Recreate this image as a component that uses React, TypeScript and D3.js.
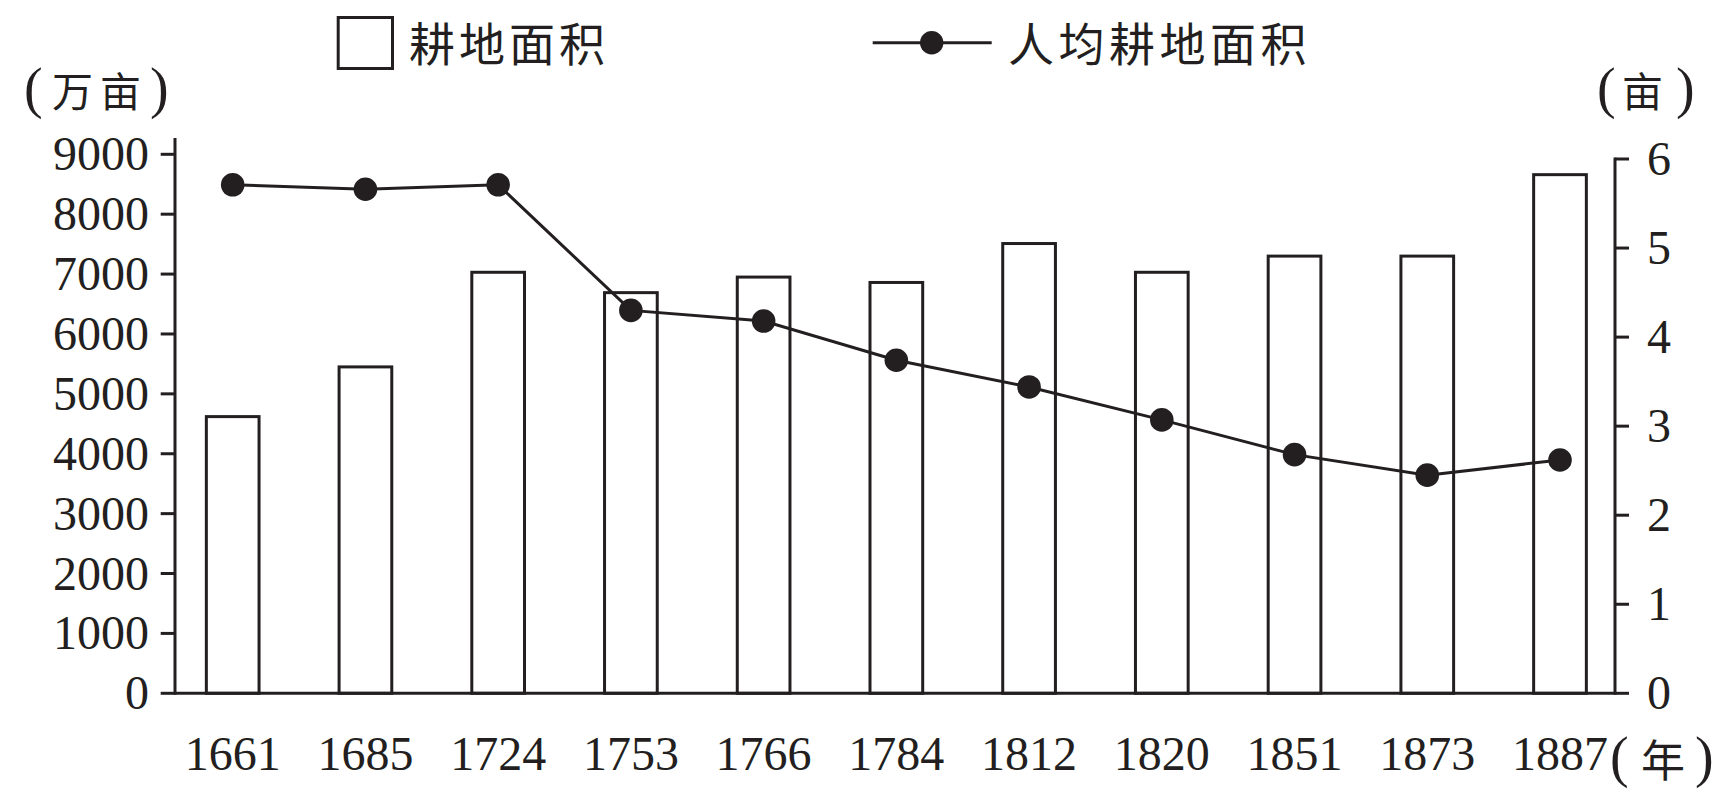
import React from "react";
import * as d3 from "d3";

const years = ["1661", "1685", "1724", "1753", "1766", "1784", "1812", "1820", "1851", "1873", "1887"];
const areaValues = [4620, 5450, 7030, 6690, 6950, 6860, 7510, 7030, 7300, 7300, 8660];
const perCapitaValues = [5.71, 5.66, 5.71, 4.3, 4.18, 3.74, 3.44, 3.07, 2.68, 2.45, 2.62];
const leftTicks = [0, 1000, 2000, 3000, 4000, 5000, 6000, 7000, 8000, 9000];
const rightTicks = [0, 1, 2, 3, 4, 5, 6];
const legendBar = "耕地面积";
const legendLine = "人均耕地面积";

const W = 1734;
const H = 807;
const INK = "#231f20";
const SERIF = "'Liberation Serif', 'Times New Roman', serif";
const CJK = "'Noto Sans CJK SC', 'Noto Sans CJK JP', sans-serif";

export default function App() {
  const x = d3.scalePoint<string>().domain(years).range([232.7, 1560]);
  const yL = d3.scaleLinear().domain([0, 9000]).range([693.3, 154.3]);
  const yR = d3.scaleLinear().domain([0, 6]).range([693.3, 159]);
  const barW = 52.7;
  const leftX = 175;
  const rightX = 1615;

  const lineGen = d3
    .line<number>()
    .x((_, i) => x(years[i]) as number)
    .y((d) => yR(d));

  return (
    <svg
      width={W}
      height={H}
      viewBox={`0 0 ${W} ${H}`}
      style={{ position: "absolute", left: 0, top: 0, display: "block", background: "#fff" }}
    >
      <rect x={0} y={0} width={W} height={H} fill="#fff" />

      {/* bars */}
      {areaValues.map((v, i) => (
        <rect
          key={years[i]}
          x={(x(years[i]) as number) - barW / 2}
          y={yL(v)}
          width={barW}
          height={yL(0) - yL(v)}
          fill="#fff"
          stroke={INK}
          strokeWidth={3}
        />
      ))}

      {/* left axis */}
      <line x1={leftX} x2={leftX} y1={138} y2={yL(0) + 1.5} stroke={INK} strokeWidth={3} />
      {leftTicks.map((t) => (
        <g key={"l" + t}>
          <line x1={160.7} x2={leftX} y1={yL(t)} y2={yL(t)} stroke={INK} strokeWidth={3} />
          <text x={149} y={yL(t) + 16} textAnchor="end" fontFamily={SERIF} fontSize={48} fill={INK}>
            {t}
          </text>
        </g>
      ))}

      {/* right axis */}
      <line x1={rightX} x2={rightX} y1={yR(6) - 1.5} y2={yR(0) + 1.5} stroke={INK} strokeWidth={3} />
      {rightTicks.map((t) => (
        <g key={"r" + t}>
          <line x1={rightX} x2={1629} y1={yR(t)} y2={yR(t)} stroke={INK} strokeWidth={3} />
          <text x={1647} y={yR(t) + 16} textAnchor="start" fontFamily={SERIF} fontSize={48} fill={INK}>
            {t}
          </text>
        </g>
      ))}

      {/* x axis */}
      <line x1={leftX} x2={rightX} y1={yL(0)} y2={yL(0)} stroke={INK} strokeWidth={3} />
      {years.map((yr) => (
        <text
          key={"x" + yr}
          x={x(yr) as number}
          y={770}
          textAnchor="middle"
          fontFamily={SERIF}
          fontSize={48}
          fill={INK}
        >
          {yr}
        </text>
      ))}

      {/* line series */}
      <path d={lineGen(perCapitaValues) || ""} fill="none" stroke={INK} strokeWidth={3} />
      {perCapitaValues.map((v, i) => (
        <circle key={"c" + i} cx={x(years[i]) as number} cy={yR(v)} r={11.8} fill={INK} />
      ))}

      {/* unit labels */}
      <g fill={INK}>
        <text x={24} y={107} fontFamily={SERIF} fontSize={56}>(</text>
        <text x={52} y={107} fontFamily={CJK} fontSize={41}>万</text>
        <text x={100} y={107} fontFamily={CJK} fontSize={41}>亩</text>
        <text x={150} y={107} fontFamily={SERIF} fontSize={56}>)</text>

        <text x={1597} y={107} fontFamily={SERIF} fontSize={56}>(</text>
        <text x={1622} y={107} fontFamily={CJK} fontSize={41}>亩</text>
        <text x={1676} y={107} fontFamily={SERIF} fontSize={56}>)</text>

        <text x={1610} y={776} fontFamily={SERIF} fontSize={56}>(</text>
        <text x={1641} y={777} fontFamily={CJK} fontSize={44}>年</text>
        <text x={1695} y={776} fontFamily={SERIF} fontSize={56}>)</text>
      </g>

      {/* legend */}
      <rect x={338.2} y={17.5} width={54.3} height={51} fill="#fff" stroke={INK} strokeWidth={3} />
      <text x={409} y={61} fontFamily={CJK} fontSize={46} letterSpacing={4} fill={INK}>
        {legendBar}
      </text>
      <line x1={872.7} x2={991.7} y1={42.7} y2={42.7} stroke={INK} strokeWidth={3} />
      <circle cx={931.7} cy={42.7} r={11.7} fill={INK} />
      <text x={1008} y={61} fontFamily={CJK} fontSize={46} letterSpacing={4.5} fill={INK}>
        {legendLine}
      </text>
    </svg>
  );
}
